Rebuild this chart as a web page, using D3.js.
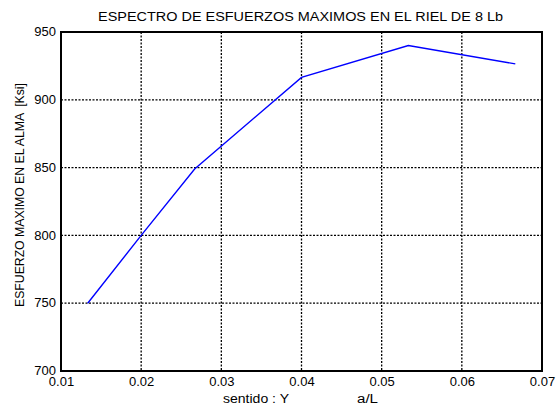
<!DOCTYPE html>
<html lang="es">
<head>
<meta charset="UTF-8">
<title>Espectro de esfuerzos</title>
<script src="https://d3js.org/d3.v7.min.js"></script>
<style>
    body { margin: 0; background: #fff; }
    text { font-family: "Liberation Sans", Arial, sans-serif; fill: #000; }
    .grid line { stroke: #000; stroke-dasharray: 2,1.5; stroke-width: 1.3; }
</style>
</head>
<body>
<script>
    var xValues = [0.01333, 0.02, 0.02667, 0.04, 0.05333, 0.06667];
    var yValues = [750, 800, 849, 916.5, 940, 926.5];
    var xTicks = [0.01, 0.02, 0.03, 0.04, 0.05, 0.06, 0.07];
    var yTicks = [700, 750, 800, 850, 900, 950];

    var W = 557, H = 407;
    var margin = {top: 32, right: 15, bottom: 36, left: 61};
    var width = W - margin.left - margin.right,
        height = H - margin.top - margin.bottom;

    var svg = d3.select("body").append("svg")
        .attr("width", W)
        .attr("height", H);

    var g = svg.append("g")
        .attr("transform", "translate(" + margin.left + "," + margin.top + ")");

    var x = d3.scaleLinear().domain([0.01, 0.07]).range([0, width]);
    var y = d3.scaleLinear().domain([700, 950]).range([height, 0]);

    // grid
    g.append("g").attr("class", "grid")
        .selectAll("line").data(xTicks.slice(1, -1)).enter().append("line")
        .attr("x1", function (d) { return x(d); })
        .attr("x2", function (d) { return x(d); })
        .attr("y1", 0).attr("y2", height);
    g.append("g").attr("class", "grid")
        .selectAll("line").data(yTicks.slice(1, -1)).enter().append("line")
        .attr("y1", function (d) { return y(d); })
        .attr("y2", function (d) { return y(d); })
        .attr("x1", 0).attr("x2", width);

    // line
    var pts = xValues.map(function (v, i) { return [v, yValues[i]]; });
    g.append("path")
        .datum(pts)
        .attr("fill", "none")
        .attr("stroke", "#0000ff")
        .attr("stroke-width", 1.4)
        .attr("d", d3.line()
            .x(function (d) { return x(d[0]); })
            .y(function (d) { return y(d[1]); }));

    // box
    g.append("rect")
        .attr("width", width).attr("height", height)
        .attr("fill", "none").attr("stroke", "#000").attr("stroke-width", 2);

    // axes (labels only)
    var xAxis = g.append("g")
        .attr("transform", "translate(0," + height + ")")
        .call(d3.axisBottom(x).tickValues(xTicks).tickSize(0).tickPadding(6)
            .tickFormat(d3.format(".2f")));
    var yAxis = g.append("g")
        .call(d3.axisLeft(y).tickValues(yTicks).tickSize(0).tickPadding(5)
            .tickFormat(d3.format("d")));
    [xAxis, yAxis].forEach(function (a) {
        a.select(".domain").remove();
        a.selectAll("text").style("font-size", "13px")
            .style("font-family", "'Liberation Sans', Arial, sans-serif");
    });
    yAxis.selectAll("text").attr("dy", "0.28em");

    // title
    svg.append("text")
        .attr("x", 98)
        .attr("y", 21)
        .attr("textLength", 405)
        .attr("lengthAdjust", "spacingAndGlyphs")
        .style("font-size", "12.5px")
        .text("ESPECTRO DE ESFUERZOS MAXIMOS EN EL RIEL DE 8 Lb");

    // x label
    svg.append("text")
        .attr("x", 223)
        .attr("y", 403)
        .attr("textLength", 66)
        .attr("lengthAdjust", "spacingAndGlyphs")
        .style("font-size", "12.5px")
        .text("sentido : Y");
    svg.append("text")
        .attr("x", 357)
        .attr("y", 403)
        .attr("textLength", 21)
        .attr("lengthAdjust", "spacingAndGlyphs")
        .style("font-size", "12.5px")
        .text("a/L");

    // y label
    svg.append("text")
        .attr("transform", "translate(24,307) rotate(-90)")
        .attr("textLength", 224)
        .attr("lengthAdjust", "spacingAndGlyphs")
        .style("font-size", "12px")
        .style("white-space", "pre")
        .text("ESFUERZO MAXIMO EN EL ALMA  [Ksi]");
</script>
</body>
</html>
